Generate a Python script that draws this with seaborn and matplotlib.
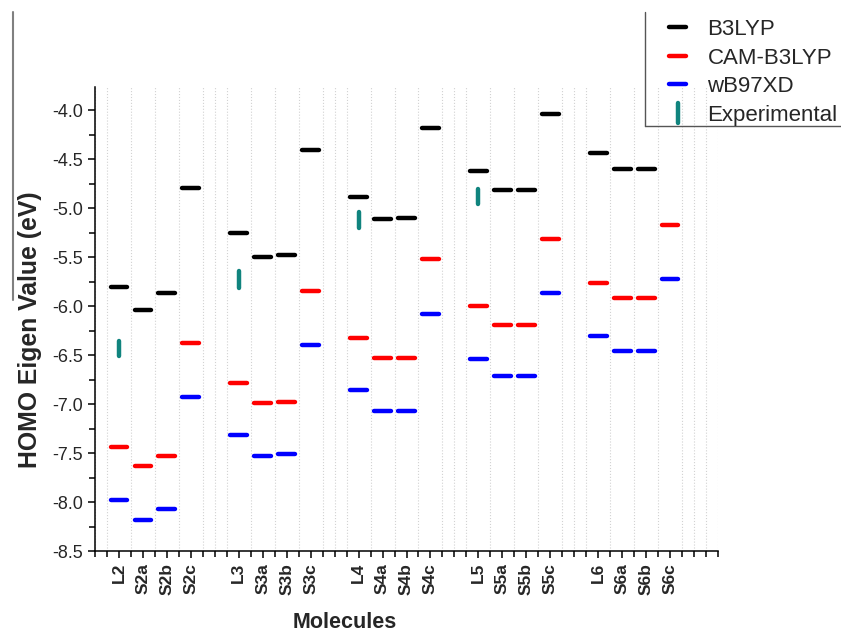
import numpy as np
import pandas as pd
import matplotlib
matplotlib.use('Agg')
import matplotlib.pyplot as plt
import seaborn as sns
from matplotlib.lines import Line2D
from matplotlib.markers import MarkerStyle
from matplotlib.ticker import MultipleLocator, FormatStrFormatter

# Dados
moleculas = ['L2', 'S2a', 'S2b', 'S2c', 'L3', 'S3a', 'S3b', 'S3c',
             'L4', 'S4a', 'S4b', 'S4c', 'L5', 'S5a', 'S5b', 'S5c',
             'L6', 'S6a', 'S6b', 'S6c']
b3lyp = [-5.80, -6.04, -5.86, -4.79, -5.25, -5.50, -5.48, -4.40,
         -4.88, -5.11, -5.10, -4.18, -4.62, -4.81, -4.81, -4.04,
         -4.43, -4.60, -4.60, np.nan]
cam_b3lyp = [-7.44, -7.63, -7.53, -6.38, -6.78, -6.99, -6.98, -5.84,
             -6.32, -6.53, -6.53, -5.52, -6.00, -6.19, -6.19, -5.31,
             -5.76, -5.92, -5.92, -5.17]
wb97xd = [-7.98, -8.18, -8.07, -6.93, -7.32, -7.53, -7.51, -6.40,
          -6.86, -7.07, -7.07, -6.08, -6.54, -6.71, -6.71, -5.86,
          -6.30, -6.46, -6.46, -5.72]
exp_mols = ['L2', 'L3', 'L4', 'L5']
exp_alto = [-6.35, -5.64, -5.04, -4.80]
exp_baixo = [-6.51, -5.81, -5.20, -4.96]

cores = {'B3LYP': 'black', 'CAM-B3LYP': 'red', 'wB97XD': 'blue'}
cor_exp = '#10847e'

# Posição de cada molécula no eixo x (grupos de 4, separados por um espaço)
pos = {m: 2 + 10 * (i // 4) + 2 * (i % 4) for i, m in enumerate(moleculas)}
meia = 0.70

# Tabela longa: cada traço horizontal vira dois pontos
linhas = []
for metodo, valores in [('B3LYP', b3lyp), ('CAM-B3LYP', cam_b3lyp), ('wB97XD', wb97xd)]:
    for m, v in zip(moleculas, valores):
        if np.isnan(v):
            continue
        for dx in (-meia, meia):
            linhas.append({'x': pos[m] + dx, 'y': v, 'metodo': metodo, 'traco': metodo + m})
df = pd.DataFrame(linhas)

exp = []
for m, a, b in zip(exp_mols, exp_alto, exp_baixo):
    exp.append({'x': pos[m], 'y': a, 'traco': m})
    exp.append({'x': pos[m], 'y': b, 'traco': m})
df_exp = pd.DataFrame(exp)

sns.set_style('ticks')
plt.rcParams['font.family'] = ['Liberation Sans', 'DejaVu Sans']
plt.rcParams['axes.unicode_minus'] = False

fig = plt.figure(figsize=(8.41, 6.35), dpi=100)
ax = fig.add_axes([95 / 841, 1 - 551 / 635, (718 - 95) / 841, (551 - 87) / 635])

sns.lineplot(data=df, x='x', y='y', hue='metodo', units='traco', estimator=None,
             palette=cores, linewidth=3.2, solid_capstyle='round', legend=False, ax=ax)
sns.lineplot(data=df_exp, x='x', y='y', units='traco', estimator=None, sort=False,
             color=cor_exp, linewidth=3.2, solid_capstyle='round', legend=False, ax=ax)

ax.set_xlim(0, 52)
ax.set_ylim(-8.5, -3.76)
ax.set_xticks([pos[m] for m in moleculas])
ax.set_xticklabels(moleculas, rotation=90, fontsize=12.5, fontweight='bold')
ax.set_xticks(range(0, 53), minor=True)
ax.yaxis.set_major_locator(MultipleLocator(0.5))
ax.yaxis.set_minor_locator(MultipleLocator(0.25))
ax.yaxis.set_major_formatter(FormatStrFormatter('%.1f'))
ax.tick_params(axis='y', labelsize=13)
ax.tick_params(which='major', length=5, width=1.1, color='black')
ax.tick_params(which='minor', length=4, width=1.1, color='black')
ax.grid(True, axis='x', which='minor', linestyle=':', linewidth=0.8, color='#d2d2d2')
ax.set_axisbelow(True)
for lado in ['top', 'right']:
    ax.spines[lado].set_visible(False)
for lado in ['left', 'bottom']:
    ax.spines[lado].set_linewidth(1.1)
    ax.spines[lado].set_color('black')

ax.set_xlabel('Molecules', fontsize=15.5, fontweight='bold')
ax.xaxis.set_label_coords((345 - 95) / 623, -(622 - 551) / 464)
ax.xaxis.label.set_va('center')
ax.set_ylabel('HOMO Eigen Value (eV)', fontsize=17.8, fontweight='bold')
ax.yaxis.set_label_coords(-(95 - 30) / 623, (551 - 330) / 464)
ax.yaxis.label.set_va('center')

# Legenda
handles = [Line2D([], [], color=c, linewidth=3.2, solid_capstyle='round') for c in cores.values()]
handles.append(Line2D([], [], linestyle='None', color=cor_exp,
                      marker=MarkerStyle('|', capstyle='round'), markersize=14, markeredgewidth=3.2))
fig.legend(handles, list(cores.keys()) + ['Experimental'], loc='upper left',
           bbox_to_anchor=(669 / 841, 1 - 19 / 635), frameon=False, fontsize=16,
           handlelength=0.78, handletextpad=0.95, labelspacing=0.34, borderpad=0,
           borderaxespad=0)

# Moldura parcial da legenda e traço cinza à esquerda
fig.add_artist(Line2D([645 / 841, 645 / 841], [1 - 12 / 635, 1 - 126 / 635], color='#555555', linewidth=1))
fig.add_artist(Line2D([645 / 841, 1], [1 - 126 / 635, 1 - 126 / 635], color='#555555', linewidth=1))
fig.add_artist(Line2D([13 / 841, 13 / 841], [1 - 12 / 635, 1 - 300 / 635], color='#808080', linewidth=1.5))

plt.savefig('out.png', dpi=100)
